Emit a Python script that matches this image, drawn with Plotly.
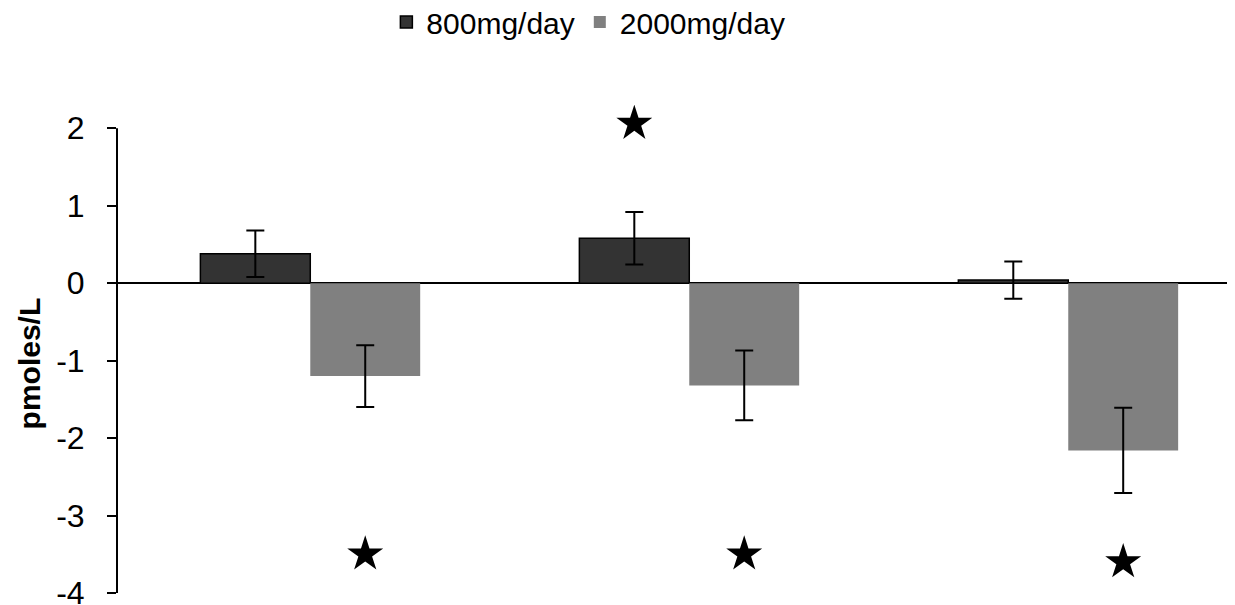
import plotly.graph_objects as go

categories = ["Group 1", "Group 2", "Group 3"]
series_names = ["800mg/day", "2000mg/day"]
values_800 = [0.38, 0.58, 0.04]
errors_800 = [0.30, 0.34, 0.24]
values_2000 = [-1.20, -1.32, -2.16]
errors_2000 = [0.40, 0.45, 0.55]
stars_800 = [None, 2.06, None]
stars_2000 = [-3.5, -3.5, -3.6]
y_ticks = [2, 1, 0, -1, -2, -3, -4]
y_tick_text = ["2", "1", "0", "-1", "-2", "-3", "-4"]
y_title = "<b>pmoles/L</b>"
y_min, y_max = -4, 2
y_headroom = 0.3  # extra space above the axis for the significance star

FONT = "Liberation Sans, Arial, sans-serif"

fig = go.Figure()
fig.add_trace(go.Bar(
    x=categories, y=values_800, name=series_names[0], offsetgroup="a",
    marker=dict(color="#333333", line=dict(color="#000000", width=1.5)),
    error_y=dict(type="data", array=errors_800, color="#000000", thickness=2, width=9),
))
fig.add_trace(go.Bar(
    x=categories, y=values_2000, name=series_names[1], offsetgroup="b",
    marker=dict(color="#808080", line=dict(color="#808080", width=0)),
    error_y=dict(type="data", array=errors_2000, color="#000000", thickness=2, width=9),
))
fig.add_trace(go.Scatter(
    x=categories, y=stars_800, offsetgroup="a", mode="markers", showlegend=False,
    marker=dict(symbol="star", size=27, color="#000000"), hoverinfo="skip",
))
fig.add_trace(go.Scatter(
    x=categories, y=stars_2000, offsetgroup="b", mode="markers", showlegend=False,
    marker=dict(symbol="star", size=27, color="#000000"), hoverinfo="skip",
))

# visible y-axis line only spans the tick range
fig.add_shape(type="line", xref="paper", yref="y", x0=0, x1=0, y0=y_min, y1=y_max,
              line=dict(color="#000000", width=2))

# y-axis title
fig.add_annotation(text=y_title, textangle=-90, xref="paper", yref="paper",
                   x=-0.078, y=0.47, xanchor="center", yanchor="middle",
                   showarrow=False, font=dict(size=30, family=FONT, color="#000000"))

fig.update_layout(
    width=1227, height=597,
    margin=dict(l=109, r=0, t=97, b=12, autoexpand=False),
    paper_bgcolor="white", plot_bgcolor="white",
    barmode="group", bargap=0.42, bargroupgap=0,
    scattermode="group", scattergap=0.42,
    font=dict(family=FONT, color="#000000"),
    legend=dict(
        orientation="h", xref="container", yref="paper",
        x=0.473, xanchor="center", y=1.17, yanchor="middle",
        font=dict(size=30, family=FONT), itemwidth=30, traceorder="normal",
    ),
    xaxis=dict(
        range=[-0.51, 2.44], showticklabels=False, showline=False,
        showgrid=False, zeroline=False, ticks="", automargin=False,
    ),
    yaxis=dict(
        range=[y_min, y_max + y_headroom], tickvals=y_ticks, ticktext=y_tick_text,
        ticks="outside", ticklen=9, tickwidth=2, ticklabeloverflow="allow",
        tickcolor="#000000", showline=False, automargin=False,
        showgrid=False, zeroline=True, zerolinecolor="#000000", zerolinewidth=2,
        tickfont=dict(size=32, family=FONT), ticklabelstandoff=16,
    ),
)

fig.write_html("out.html")
